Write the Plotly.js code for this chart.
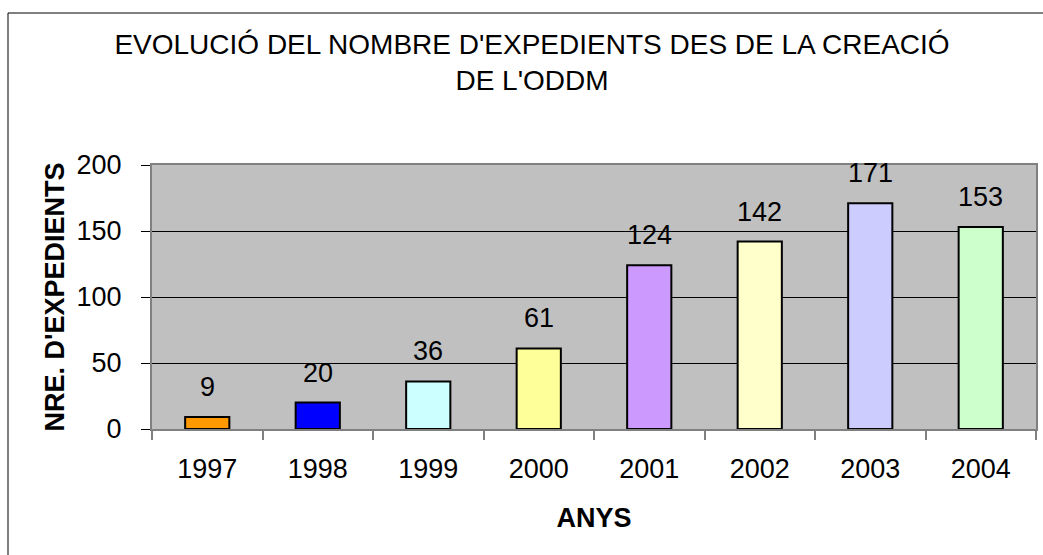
<!DOCTYPE html>
<html>
<head>
<meta charset="utf-8">
<script src="https://cdn.plot.ly/plotly-3.0.1.min.js"></script>
<style>
  html, body { margin: 0; padding: 0; background: #ffffff; }
  #chart { width: 1043px; height: 555px; }
</style>
</head>
<body>
<div id="chart"></div>
<script>
const years = ['1997', '1998', '1999', '2000', '2001', '2002', '2003', '2004'];
const expedients = [9, 20, 36, 61, 124, 142, 171, 153];
const barColors = ['#FF9900', '#0000FF', '#CCFFFF', '#FFFF99', '#CC99FF', '#FFFFCC', '#CCCCFF', '#CCFFCC'];
const yTicks = [0, 50, 100, 150, 200];

const FONT = 'Arial, "Liberation Sans", sans-serif';

const trace = {
  type: 'bar',
  x: years,
  y: expedients,
  marker: { color: barColors, line: { color: '#000000', width: 2 } },
  hoverinfo: 'x+y'
};

const labelAnnotations = years.map((yr, i) => ({
  x: i,
  y: expedients[i],
  xref: 'x',
  yref: 'y',
  text: String(expedients[i]),
  showarrow: false,
  yanchor: 'bottom',
  yshift: 13,
  font: { family: FONT, size: 27, color: '#000000' }
}));

const layout = {
  width: 1043,
  height: 555,
  margin: { l: 152, r: 7, t: 165, b: 126 },
  paper_bgcolor: '#ffffff',
  plot_bgcolor: '#C0C0C0',
  showlegend: false,
  bargap: 0.6,
  font: { family: FONT, size: 27, color: '#000000' },
  title: {
    text: "EVOLUCIÓ DEL NOMBRE D'EXPEDIENTS DES DE LA CREACIÓ<br>DE L'ODDM",
    font: { family: FONT, size: 28, color: '#000000' },
    xref: 'container',
    yref: 'container',
    x: 532 / 1043,
    xanchor: 'center',
    y: 1 - 54 / 555,
    yanchor: 'middle'
  },
  xaxis: {
    type: 'category',
    range: [-0.5, years.length - 0.5],
    tickson: 'boundaries',
    tickangle: 0,
    ticks: 'outside',
    ticklen: 9,
    tickwidth: 2,
    tickcolor: '#808080',
    ticklabelstandoff: 15,
    showline: true,
    linecolor: '#808080',
    linewidth: 2,
    mirror: true,
    showgrid: false,
    tickfont: { family: FONT, size: 27, color: '#000000' },
    title: {
      text: '<b>ANYS</b>',
      font: { family: FONT, size: 27, color: '#000000' },
      standoff: 25
    }
  },
  yaxis: {
    range: [0, 200],
    tickvals: yTicks,
    ticktext: yTicks.map(String),
    ticks: 'outside',
    ticklen: 9,
    tickwidth: 1,
    tickcolor: '#000000',
    ticklabelstandoff: 14,
    showline: true,
    linecolor: '#808080',
    linewidth: 2,
    mirror: true,
    showgrid: true,
    gridcolor: '#000000',
    gridwidth: 1,
    zeroline: false,
    tickfont: { family: FONT, size: 27, color: '#000000' },
    title: {
      text: "<b>NRE. D'EXPEDIENTS</b>",
      font: { family: FONT, size: 27, color: '#000000' },
      standoff: 4
    }
  },
  annotations: labelAnnotations,
  shapes: [{
    type: 'rect',
    xref: 'paper',
    yref: 'paper',
    x0: (8 - 152) / 884,
    x1: 1.3,
    y0: -1,
    y1: (429 - 13) / 264,
    line: { color: '#000000', width: 1 },
    fillcolor: 'rgba(0,0,0,0)',
    layer: 'below'
  }]
};

Plotly.newPlot('chart', [trace], layout, { displayModeBar: false, staticPlot: true });
</script>
</body>
</html>
